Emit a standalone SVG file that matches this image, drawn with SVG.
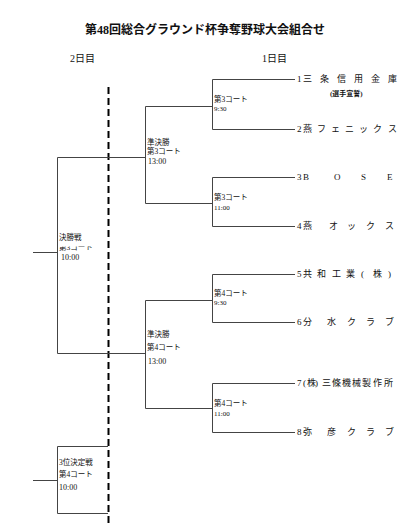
<svg xmlns="http://www.w3.org/2000/svg" width="400" height="527" viewBox="0 0 400 527">
<style>
text{font-family:"Liberation Serif","Noto Sans CJK JP",serif;fill:#111}
.title{font-size:12px;font-weight:bold}
.day{font-size:10px}
.team{font-size:9px}
.lbl{font-size:7.5px}
.tm{font-size:7px}
.tm2{font-size:8px}
.ln{stroke:#444;stroke-width:1;fill:none}
.dash{stroke:#000;stroke-width:2;stroke-dasharray:7 4;fill:none}
</style>
<rect width="400" height="527" fill="#fff"/>
<text class="title" x="205" y="34" text-anchor="middle">第48回総合グラウンド杯争奪野球大会組合せ</text>
<text class="day" x="70" y="62">2日目</text>
<text class="day" x="262" y="62">1日目</text>

<g id="connectors">
<path class="dash" d="M108.5,87V527"/>
<path class="ln" d="M295,79.5H212.5V129.5H295"/>
<path class="ln" d="M295,177.5H212.5V226.5H295"/>
<path class="ln" d="M295,274.5H212.5V322.5H295"/>
<path class="ln" d="M295,383.5H212.5V432.5H295"/>
<path class="ln" d="M212,106.5H145.5V203.5H212"/>
<path class="ln" d="M212,300.5H145.5V408.5H212"/>
<path class="ln" d="M145,157.5H57.5V353.5H145"/>
<path class="ln" d="M33,252.5H57"/>
<path class="ln" d="M108,446.5H57.5V513.5H108"/>
<path class="ln" d="M33,480.5H57"/>
</g>

<g id="team1"><text class="team" x="297 303 320 337 354 371 388" y="82">1三条信用金庫</text>
<text x="330" y="96" style="font-size:7px;font-weight:bold">(選手宣誓)</text></g>
<g id="team2"><text class="team" x="297 303 317 331 345 359 373 388" y="132">2燕フェニックス</text></g>
<g id="team3"><text class="team" x="297 303 334 361 387" y="180">3BOSE</text></g>
<g id="team4"><text class="team" x="297 303 329 347 366 385" y="229">4燕オックス</text></g>
<g id="team5"><text class="team" x="297 303 317 332 346 361 373 388" y="277">5共和工業(株)</text></g>
<g id="team6"><text class="team" x="297 303 327 347 366 385" y="325">6分水クラブ</text></g>
<g id="team7"><text class="team" x="297 303 307 315 322 332 342 352 362 373 384" y="386">7(株)三條機械製作所</text></g>
<g id="team8"><text class="team" x="297 303 327 347 366 385" y="435">8弥彦クラブ</text></g>

<g id="m1"><text class="lbl" x="214" y="102">第3コート</text><text class="tm" x="214" y="110.5">9:30</text></g>
<g id="m2"><text class="lbl" x="214" y="200">第3コート</text><text class="tm" x="214" y="209.5">11:00</text></g>
<g id="m3"><text class="lbl" x="214" y="296">第4コート</text><text class="tm" x="214" y="304.5">9:30</text></g>
<g id="m4"><text class="lbl" x="214" y="406">第4コート</text><text class="tm" x="214" y="415.5">11:00</text></g>

<g id="semiA"><text class="lbl" x="147" y="145">準決勝</text><text class="lbl" x="147" y="154">第3コート</text><text class="tm2" x="148" y="164">13:00</text></g>
<g id="semiB"><text class="lbl" x="147" y="337">準決勝</text><text class="lbl" x="147" y="350">第4コート</text><text class="tm2" x="148" y="364">13:00</text></g>

<g id="final"><text class="lbl" x="59" y="250">第3コート</text>
<rect x="58" y="241" width="32" height="5.5" fill="#fff"/>
<text class="lbl" x="59" y="240">決勝戦</text><text class="tm2" x="61" y="260">10:00</text></g>
<g id="third"><text class="lbl" x="59" y="465">3位決定戦</text><text class="lbl" x="59" y="477">第4コート</text><text class="tm2" x="59" y="490">10:00</text></g>
</svg>
